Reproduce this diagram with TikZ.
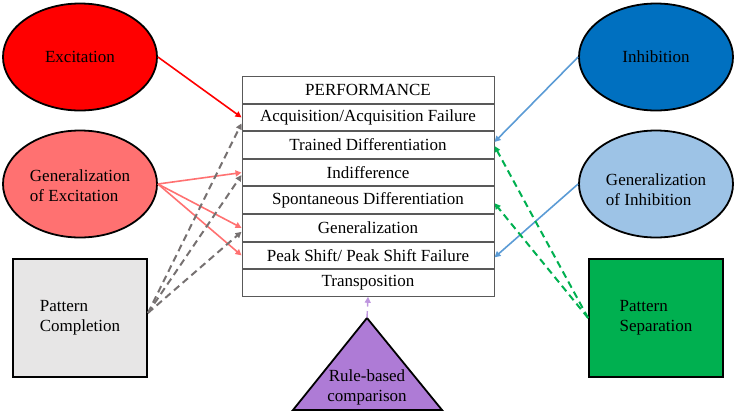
\documentclass[tikz,border=0pt]{standalone}
\usepackage{fontspec}
\setmainfont{Liberation Serif}
\usepackage{xcolor}
\usepackage{tikz}
\usetikzlibrary{
    positioning,
    arrows.meta,
    shapes.geometric
}
\definecolor{excred}{HTML}{FF0000}
\definecolor{genexc}{HTML}{FF7171}
\definecolor{inhblue}{HTML}{0070C0}
\definecolor{geninh}{HTML}{9DC3E6}
\definecolor{compgray}{HTML}{E7E6E6}
\definecolor{sepgreen}{HTML}{00B050}
\definecolor{rulepurple}{HTML}{AE7BD6}
\definecolor{dashgray}{HTML}{767171}
\definecolor{arrblue}{HTML}{5B9BD5}

\begin{document}
\begin{tikzpicture}[x=1pt, y=-1pt,
    font=\fontsize{17}{20}\selectfont,
    oval/.style={ellipse, draw=black, line width=1.8pt, minimum width=154pt, minimum height=107pt, inner sep=0pt},
    sqbox/.style={rectangle, draw=black, line width=1.8pt, minimum width=134pt, minimum height=118pt},
    row/.style={rectangle, draw=black!65, line width=1pt, minimum width=252pt, minimum height=26.6pt, inner sep=0pt},
    tip/.style={-{Triangle[length=6pt,width=6pt]}, line width=1.6pt},
    dashline/.style={tip, line width=2pt, dash pattern=on 7pt off 4.5pt}
]
    \useasboundingbox (0,0) rectangle (737,413);

    % table of performance
    \node[row] (perf) at (368,89.8) {PERFORMANCE};
    \node[row, below=0pt of perf] (acq) {Acquisition/Acquisition Failure};
    \node[row, below=0pt of acq] (trained) {Trained Differentiation};
    \node[row, below=0pt of trained] (indiff) {Indifference};
    \node[row, below=0pt of indiff] (spont) {Spontaneous Differentiation};
    \node[row, below=0pt of spont] (gen) {Generalization};
    \node[row, below=0pt of gen] (peak) {Peak Shift/ Peak Shift Failure};
    \node[row, below=0pt of peak] (trans) {Transposition};

    % left side
    \node[oval, fill=excred] (exc) at (80,57) {Excitation};
    \node[oval, fill=genexc] (genexc) at (80,184) {};
    \node[align=left] (genexctext) at (80,186) {Generalization\\of Excitation};
    \node[sqbox, fill=compgray, align=left] (comp) at (80,318) {Pattern\\Completion};

    % right side
    \node[oval, fill=inhblue] (inh) at (656,57) {Inhibition};
    \node[oval, fill=geninh] (geninh) at (656,184) {};
    \node[align=left] (geninhtext) at (656,190) {Generalization\\of Inhibition};
    \node[sqbox, fill=sepgreen, align=left] (sep) at (656,318) {Pattern\\Separation};

    % rule-based triangle
    \coordinate (apex) at (367,318);
    \fill[rulepurple, draw=black, line width=1.8pt] (apex) -- (442,410) -- (293,410) -- cycle;
    \node[align=center] (rule) at (367,387) {Rule-based\\comparison};

    % arrows
    \draw[tip, excred] (exc.east) -- (acq.west);
    \draw[tip, genexc] (genexc.east) -- (indiff.west);
    \draw[tip, genexc] (genexc.east) -- (gen.west);
    \draw[tip, genexc] (genexc.east) -- (peak.west);
    \draw[dashline, dashgray] ([yshift=5pt]comp.east) -- ([yshift=-6pt]acq.west);
    \draw[dashline, dashgray] ([yshift=5pt]comp.east) -- ([yshift=-2.5pt]indiff.west);
    \draw[dashline, dashgray] ([yshift=5pt]comp.east) -- ([yshift=-4pt]gen.west);

    \draw[tip, arrblue] (inh.west) -- ([yshift=3pt]trained.east);
    \draw[tip, arrblue] (geninh.west) -- ([yshift=-2pt]peak.east);
    \draw[dashline, sepgreen] (sep.west) -- ([yshift=-1pt]trained.east);
    \draw[dashline, sepgreen] (sep.west) -- ([yshift=-3pt]spont.east);

    \draw[dashline, rulepurple!80, line width=1.4pt] (apex) -- (trans.south);
\end{tikzpicture}
\end{document}
